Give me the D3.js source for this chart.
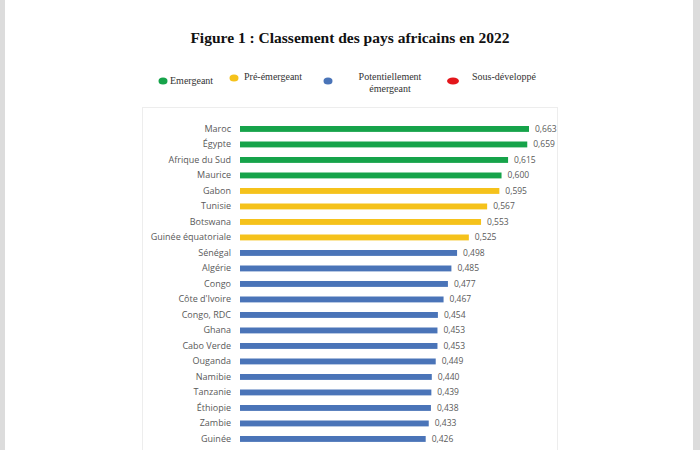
<!DOCTYPE html>
<html>
  <head>
    <meta charset="utf-8">
    <title>Classement des pays africains en 2022</title>
    <script src="https://d3js.org/d3.v7.min.js"></script>
    <style>
      body { margin: 0; background: #fff; }
    </style>
  </head>
  <body>
    <div id="chart"></div>
    <script>
      const countries = ["Maroc", "Égypte", "Afrique du Sud", "Maurice", "Gabon", "Tunisie", "Botswana",
        "Guinée équatoriale", "Sénégal", "Algérie", "Congo", "Côte d'Ivoire", "Congo, RDC", "Ghana",
        "Cabo Verde", "Ouganda", "Namibie", "Tanzanie", "Éthiopie", "Zambie", "Guinée"];
      const scores = [0.663, 0.659, 0.615, 0.600, 0.595, 0.567, 0.553, 0.525, 0.498, 0.485, 0.477,
        0.467, 0.454, 0.453, 0.453, 0.449, 0.440, 0.439, 0.438, 0.433, 0.426];
      const groups = ["Emergeant", "Emergeant", "Emergeant", "Emergeant", "Pré-émergeant", "Pré-émergeant",
        "Pré-émergeant", "Pré-émergeant", "Potentiel", "Potentiel", "Potentiel", "Potentiel", "Potentiel",
        "Potentiel", "Potentiel", "Potentiel", "Potentiel", "Potentiel", "Potentiel", "Potentiel", "Potentiel"];
      const legendKeys = ["Emergeant", "Pré-émergeant", "Potentiel", "Sous-développé"];
      const legendLabels = [["Emergeant"], ["Pré-émergeant"], ["Potentiellement", "émergeant"], ["Sous-développé"]];

      const color = d3.scaleOrdinal()
        .domain(legendKeys)
        .range(["#16a34a", "#f5c21b", "#4a74b8", "#e3161b"]);

      const width = 700, height = 450;
      const svg = d3.select("#chart")
        .append("svg")
        .attr("width", width)
        .attr("height", height);

      // page edges
      svg.append("rect").attr("x", 0).attr("y", 0).attr("width", 5).attr("height", height).attr("fill", "#dcdcdc");
      svg.append("rect").attr("x", 693).attr("y", 0).attr("width", 7).attr("height", height).attr("fill", "#dcdcdc");

      svg.append("text")
        .attr("x", 350)
        .attr("y", 43)
        .attr("text-anchor", "middle")
        .attr("font-family", "Liberation Serif, serif")
        .attr("font-weight", "bold")
        .attr("font-size", 15.5)
        .attr("fill", "#111")
        .text("Figure 1 : Classement des pays africains en 2022");

      // legend
      const legendX = [163, 234, 328, 453];
      const textX = [170, 244, 390, 472];
      const legend = svg.append("g").attr("font-family", "Liberation Serif, serif").attr("font-size", 10).attr("fill", "#333");
      legendKeys.forEach((k, i) => {
        legend.append("ellipse")
          .attr("cx", legendX[i])
          .attr("cy", i === 1 ? 78 : 81)
          .attr("rx", i === 3 ? 6 : 4.5)
          .attr("ry", 3.5)
          .attr("fill", color(k));
        legend.append("text")
          .attr("x", textX[i])
          .attr("y", i === 0 ? 84 : 80)
          .attr("text-anchor", i === 2 ? "middle" : "start")
          .selectAll("tspan")
          .data(legendLabels[i])
          .join("tspan")
          .attr("x", textX[i])
          .attr("dy", (d, j) => j ? 12 : 0)
          .text(d => d);
      });

      // plot frame
      svg.append("rect")
        .attr("x", 142.5).attr("y", 107.5)
        .attr("width", 415).attr("height", 360)
        .attr("fill", "none")
        .attr("stroke", "#ededed");

      const x = d3.scaleLinear().domain([0, 0.663]).range([240, 529]);
      const y = d3.scaleBand()
        .domain(countries)
        .range([121.2, 121.2 + 15.5 * countries.length])
        .paddingInner(0.62)
        .paddingOuter(0.31);

      svg.append("g")
        .selectAll("rect")
        .data(countries)
        .join("rect")
        .attr("x", x(0))
        .attr("y", d => y(d))
        .attr("width", (d, i) => x(scores[i]) - x(0))
        .attr("height", y.bandwidth())
        .attr("fill", (d, i) => color(groups[i]));

      const yAxis = svg.append("g")
        .attr("transform", "translate(239,0)")
        .call(d3.axisLeft(y).tickSize(0).tickPadding(8));
      yAxis.select(".domain").remove();
      yAxis.selectAll("text")
        .attr("font-family", "Open Sans, sans-serif")
        .attr("font-size", 9)
        .attr("fill", "#595959");

      const fmt = d3.formatLocale({ decimal: ",", thousands: " ", grouping: [3], currency: ["", "€"] }).format(".3f");
      svg.append("g")
        .selectAll("text")
        .data(countries)
        .join("text")
        .attr("x", (d, i) => x(scores[i]) + 6)
        .attr("y", d => y(d) + y.bandwidth() / 2)
        .attr("dy", "0.35em")
        .attr("font-family", "Open Sans, sans-serif")
        .attr("font-size", 8.5)
        .attr("fill", "#595959")
        .text((d, i) => fmt(scores[i]));
    </script>
  </body>
</html>
